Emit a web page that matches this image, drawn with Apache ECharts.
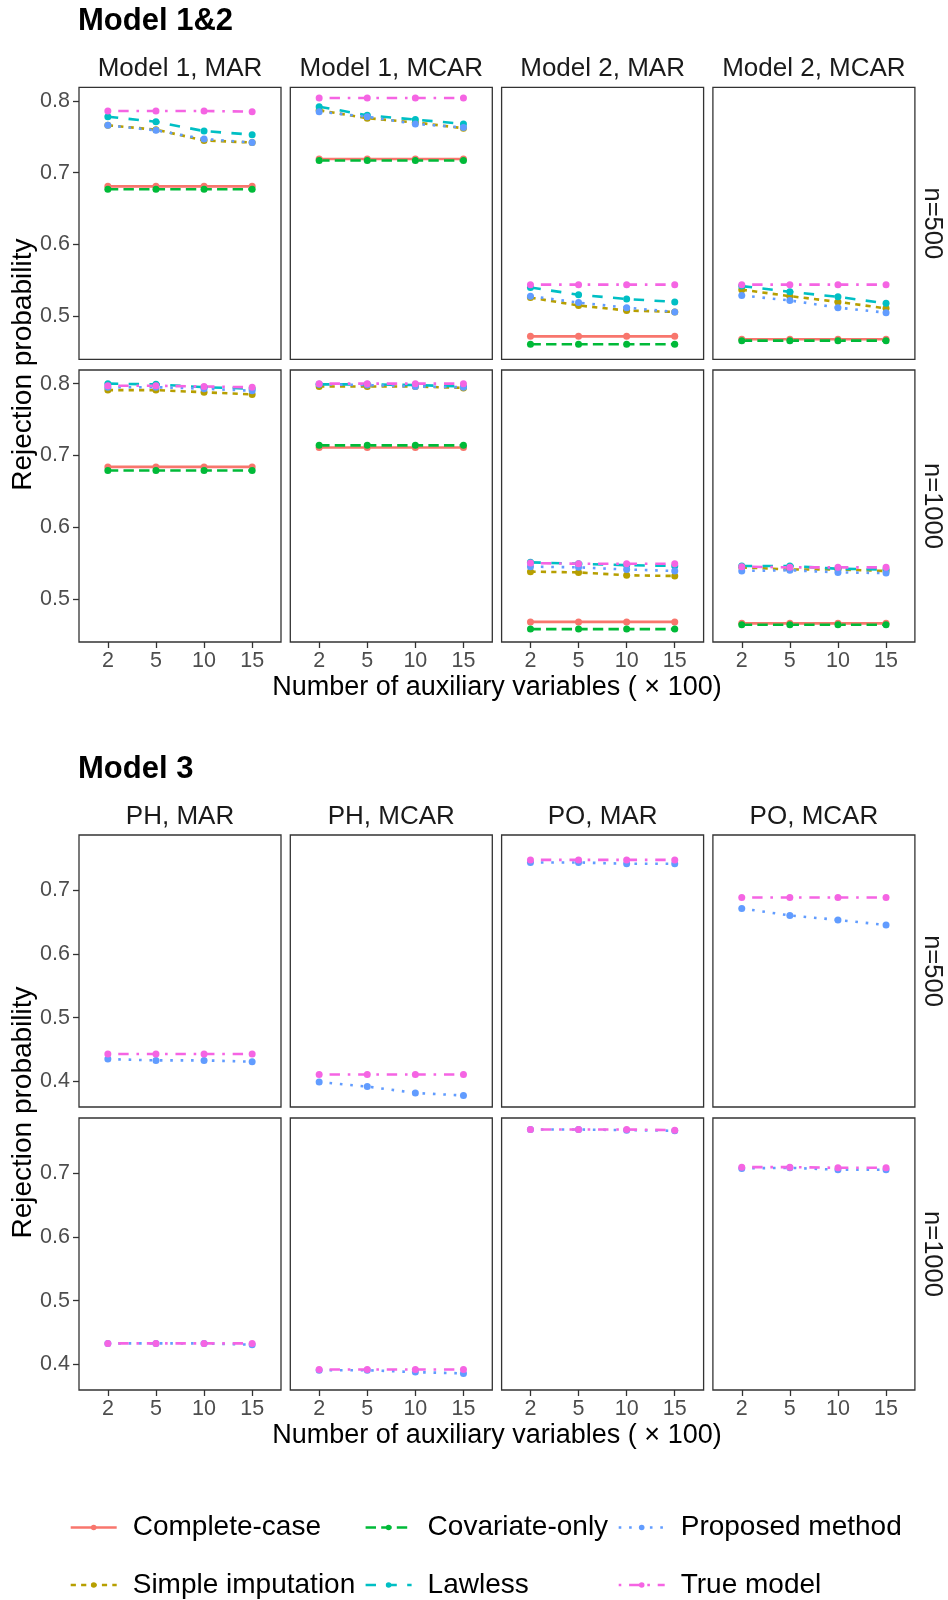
<!DOCTYPE html>
<html><head><meta charset="utf-8">
<script src="https://cdn.jsdelivr.net/npm/echarts@6/dist/echarts.min.js"></script>
<style>html,body{margin:0;padding:0;background:#fff}#chart{width:948px;height:1600px}</style>
</head><body><div id="chart"></div>
<script>
// ---------------- DATA ----------------
const xTickLabels = ['2', '5', '10', '15'];
const methods = ['Complete-case', 'Simple imputation', 'Covariate-only', 'Lawless', 'Proposed method', 'True model'];
const section1Title = 'Model 1&2';
const section2Title = 'Model 3';
const section1Columns = ['Model 1, MAR', 'Model 1, MCAR', 'Model 2, MAR', 'Model 2, MCAR'];
const section2Columns = ['PH, MAR', 'PH, MCAR', 'PO, MAR', 'PO, MCAR'];
const rowLabels = ['n=500', 'n=1000'];
const section1YTicks = [0.5, 0.6, 0.7, 0.8];
const section2YTicks = [0.4, 0.5, 0.6, 0.7];
const xTitle = 'Number of auxiliary variables ( \u00d7 100)';
const yTitle = 'Rejection probability';

// Section 1: rows per method in order of `methods`
const m1MAR_n500 = [
  [0.681, 0.681, 0.681, 0.681],
  [0.766, 0.760, 0.745, 0.742],
  [0.677, 0.677, 0.677, 0.677],
  [0.778, 0.771, 0.758, 0.753],
  [0.766, 0.759, 0.747, 0.742],
  [0.786, 0.786, 0.786, 0.785]
];
const m1MCAR_n500 = [
  [0.719, 0.719, 0.719, 0.719],
  [0.787, 0.776, 0.770, 0.762],
  [0.717, 0.717, 0.717, 0.717],
  [0.792, 0.780, 0.774, 0.768],
  [0.785, 0.778, 0.768, 0.763],
  [0.804, 0.804, 0.804, 0.804]
];
const m2MAR_n500 = [
  [0.472, 0.472, 0.472, 0.472],
  [0.526, 0.515, 0.508, 0.506],
  [0.461, 0.461, 0.461, 0.461],
  [0.540, 0.530, 0.524, 0.520],
  [0.528, 0.519, 0.512, 0.506],
  [0.544, 0.544, 0.544, 0.544]
];
const m2MCAR_n500 = [
  [0.468, 0.468, 0.468, 0.468],
  [0.537, 0.528, 0.520, 0.511],
  [0.466, 0.466, 0.466, 0.466],
  [0.542, 0.534, 0.527, 0.518],
  [0.529, 0.522, 0.512, 0.505],
  [0.544, 0.544, 0.544, 0.544]
];
const m1MAR_n1000 = [
  [0.684, 0.684, 0.684, 0.684],
  [0.791, 0.791, 0.788, 0.785],
  [0.679, 0.679, 0.679, 0.679],
  [0.800, 0.799, 0.795, 0.793],
  [0.795, 0.795, 0.793, 0.790],
  [0.797, 0.797, 0.796, 0.795]
];
const m1MCAR_n1000 = [
  [0.711, 0.711, 0.711, 0.711],
  [0.796, 0.796, 0.796, 0.794],
  [0.714, 0.714, 0.714, 0.714],
  [0.799, 0.799, 0.798, 0.796],
  [0.799, 0.798, 0.796, 0.795],
  [0.800, 0.800, 0.800, 0.800]
];
const m2MAR_n1000 = [
  [0.468, 0.468, 0.468, 0.468],
  [0.538, 0.537, 0.533, 0.532],
  [0.458, 0.458, 0.458, 0.458],
  [0.551, 0.549, 0.547, 0.546],
  [0.545, 0.544, 0.541, 0.539],
  [0.550, 0.549, 0.549, 0.549]
];
const m2MCAR_n1000 = [
  [0.466, 0.466, 0.466, 0.466],
  [0.544, 0.541, 0.541, 0.539],
  [0.464, 0.464, 0.464, 0.464],
  [0.546, 0.546, 0.542, 0.541],
  [0.539, 0.540, 0.537, 0.536],
  [0.545, 0.544, 0.544, 0.544]
];

// Section 2: only Proposed method and True model
const section2Methods = ['Proposed method', 'True model'];
const phMAR_n500 = [[0.435, 0.433, 0.433, 0.431], [0.443, 0.443, 0.443, 0.443]];
const phMCAR_n500 = [[0.399, 0.392, 0.382, 0.378], [0.411, 0.411, 0.411, 0.411]];
const poMAR_n500 = [[0.743, 0.743, 0.741, 0.741], [0.747, 0.747, 0.747, 0.747]];
const poMCAR_n500 = [[0.671, 0.660, 0.653, 0.645], [0.688, 0.688, 0.688, 0.688]];
const phMAR_n1000 = [[0.433, 0.433, 0.433, 0.431], [0.433, 0.433, 0.433, 0.433]];
const phMCAR_n1000 = [[0.391, 0.391, 0.388, 0.386], [0.392, 0.392, 0.392, 0.392]];
const poMAR_n1000 = [[0.768, 0.768, 0.767, 0.766], [0.768, 0.768, 0.768, 0.767]];
const poMCAR_n1000 = [[0.707, 0.708, 0.705, 0.705], [0.709, 0.709, 0.708, 0.708]];

// ---------------- STYLE ----------------
const FONT = 'Liberation Sans, Arial, sans-serif';
const methodColor = {
  'Complete-case': '#F8766D', 'Simple imputation': '#B79F00', 'Covariate-only': '#00BA38',
  'Lawless': '#00BFC4', 'Proposed method': '#619CFF', 'True model': '#F564E3'
};
const LW = 2.6;
const methodDash = {
  'Complete-case': 'solid',
  'Simple imputation': [2 * LW, 2 * LW],
  'Covariate-only': [4 * LW, 2 * LW],
  'Lawless': [4 * LW, 4 * LW],
  'Proposed method': [1 * LW, 3 * LW],
  'True model': [1 * LW, 3 * LW, 4 * LW, 3 * LW]
};

const colLefts = [79, 290.3, 501.6, 712.9];
const panelW = 202, panelH = 272;
const sectionRowTops = [[87.3, 370], [835, 1118]];
const sections = [
  { title: section1Title, cols: section1Columns, ticks: section1YTicks, yMin: 0.44, yMax: 0.819,
    methods: methods,
    panels: [[m1MAR_n500, m1MCAR_n500, m2MAR_n500, m2MCAR_n500], [m1MAR_n1000, m1MCAR_n1000, m2MAR_n1000, m2MCAR_n1000]] },
  { title: section2Title, cols: section2Columns, ticks: section2YTicks, yMin: 0.36, yMax: 0.786,
    methods: section2Methods,
    panels: [[phMAR_n500, phMCAR_n500, poMAR_n500, poMCAR_n500], [phMAR_n1000, phMCAR_n1000, poMAR_n1000, poMCAR_n1000]] }
];

const grids = [], xAxes = [], yAxes = [], series = [], graphics = [];
let gi = 0;
sections.forEach((sec, si) => {
  const off = si * 748;
  graphics.push({ type: 'text', x: 78, y: 21 + off,
    style: { text: sec.title, font: 'bold 31px ' + FONT, fill: '#000', align: 'left', verticalAlign: 'middle' } });
  sec.cols.forEach((c, ci) => {
    graphics.push({ type: 'text', x: colLefts[ci] + panelW / 2, y: 69 + off,
      style: { text: c, font: '26px ' + FONT, fill: '#1A1A1A', align: 'center', verticalAlign: 'middle' } });
  });
  rowLabels.forEach((r, ri) => {
    const t = sectionRowTops[si][ri];
    graphics.push({ type: 'text', x: 932, y: t + panelH / 2, rotation: -Math.PI / 2,
      style: { text: r, font: '25.5px ' + FONT, fill: '#1A1A1A', align: 'center', verticalAlign: 'middle' } });
  });
  graphics.push({ type: 'text', x: 23, y: (sectionRowTops[si][0] + sectionRowTops[si][1] + panelH) / 2, rotation: Math.PI / 2,
    style: { text: yTitle, font: '28px ' + FONT, fill: '#000', align: 'center', verticalAlign: 'middle' } });
  graphics.push({ type: 'text', x: (colLefts[0] + colLefts[3] + panelW) / 2, y: 688 + off,
    style: { text: xTitle, font: '27px ' + FONT, fill: '#000', align: 'center', verticalAlign: 'middle' } });

  sec.panels.forEach((row, ri) => {
    row.forEach((panel, ci) => {
      const isBottom = ri === 1, isLeft = ci === 0;
      grids.push({ left: colLefts[ci], top: sectionRowTops[si][ri], width: panelW, height: panelH,
        show: true, borderColor: '#333333', borderWidth: 1.3, backgroundColor: 'rgba(0,0,0,0)', containLabel: false });
      xAxes.push({ gridIndex: gi, type: 'value', min: 0.4, max: 4.6,
        axisLine: { show: false }, splitLine: { show: false },
        axisTick: { show: isBottom, length: 6, customValues: [1, 2, 3, 4], lineStyle: { color: '#333333', width: 1.3 } },
        axisLabel: { show: isBottom, customValues: [1, 2, 3, 4], formatter: v => xTickLabels[Math.round(v) - 1],
          fontSize: 21.5, fontFamily: FONT, color: '#4D4D4D', margin: 8 } });
      yAxes.push({ gridIndex: gi, type: 'value', min: sec.yMin, max: sec.yMax,
        axisLine: { show: false }, splitLine: { show: false },
        axisTick: { show: isLeft, length: 6, customValues: sec.ticks, lineStyle: { color: '#333333', width: 1.3 } },
        axisLabel: { show: isLeft, customValues: sec.ticks, formatter: v => v.toFixed(1),
          fontSize: 21.5, fontFamily: FONT, color: '#4D4D4D', margin: 9 } });
      sec.methods.forEach((m, mi) => {
        series.push({ type: 'line', name: m, xAxisIndex: gi, yAxisIndex: gi,
          data: panel[mi].map((v, i) => [i + 1, v]),
          symbol: 'circle', symbolSize: 7, showSymbol: true,
          lineStyle: { color: methodColor[m], width: LW, type: methodDash[m], cap: 'butt' },
          itemStyle: { color: methodColor[m] },
          emphasis: { disabled: true }, animation: false });
      });
      gi++;
    });
  });
});

// Legend: 3 columns x 2 rows (column-major order as in reference)
const legendCols = [69.4, 364.3, 617.4];
const legendRows = [1512.5, 1570];
const legendOrder = [['Complete-case', 'Simple imputation'], ['Covariate-only', 'Lawless'], ['Proposed method', 'True model']];
const legends = [];
legendOrder.forEach((col, ci) => col.forEach((name, ri) => {
  legends.push({ data: [name], left: legendCols[ci], top: legendRows[ri], orient: 'horizontal', padding: 0,
    itemWidth: 46, itemHeight: 7, selectedMode: false,
    lineStyle: { width: LW },
    textStyle: { fontSize: 28, fontFamily: FONT, color: '#000', lineHeight: 30, padding: [0, 0, 0, 11] } });
}));

const chart = echarts.init(document.getElementById('chart'), null, { renderer: 'canvas' });
chart.setOption({
  animation: false,
  backgroundColor: '#ffffff',
  grid: grids, xAxis: xAxes, yAxis: yAxes, series: series,
  legend: legends, graphic: graphics
});
</script></body></html>
